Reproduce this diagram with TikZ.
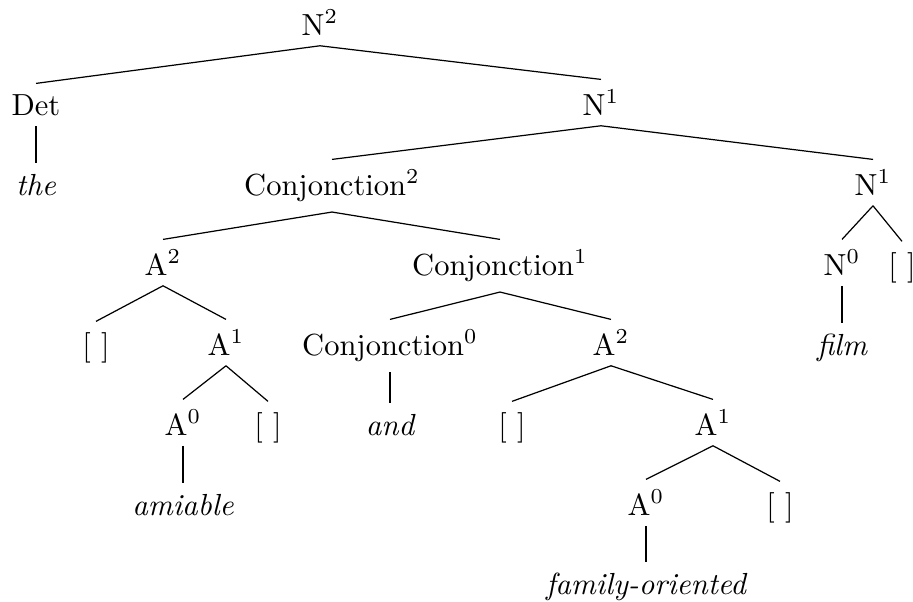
\documentclass[tikz,border=0pt]{standalone}
\begin{document}
\begin{tikzpicture}[x=0.3279pt,y=-0.3279pt,
  tn/.style={anchor=base,inner sep=3.333pt},
  lf/.style={anchor=base,inner sep=3.333pt,font=\itshape},
  edge/.style={line width=0.4pt}]
\useasboundingbox (0,0) rectangle (913,601);
% row 1
\node[tn] (n2) at (320,35) {N$^{2}$};
% row 2
\node[tn] (det) at (36,115) {Det};
\node[tn] (n1a) at (601,115) {N$^{1}$};
% row 3
\node[lf] (the) at (36,195) {the};
\node[tn] (conj2) at (332,195) {Conjonction$^{2}$};
\node[tn] (n1b) at (873,195) {N$^{1}$};
% row 4
\node[tn] (a2a) at (163,275) {A$^{2}$};
\node[tn] (conj1) at (500,275) {Conjonction$^{1}$};
\node[tn] (n0) at (842,275) {N$^{0}$};
\node[tn] (e1) at (902,275) {[ ]};
% row 5
\node[tn] (e2) at (96,355) {[ ]};
\node[tn] (a1a) at (226,355) {A$^{1}$};
\node[tn] (conj0) at (390,355) {Conjonction$^{0}$};
\node[tn] (a2b) at (611,355) {A$^{2}$};
\node[lf] (film) at (842,355) {film};
% row 6
\node[tn] (a0a) at (183,435) {A$^{0}$};
\node[tn] (e3) at (268,435) {[ ]};
\node[lf] (and) at (390,435) {and};
\node[tn] (e4) at (512,435) {[ ]};
\node[tn] (a1b) at (713,435) {A$^{1}$};
% row 7
\node[lf] (amiable) at (183,515) {amiable};
\node[tn] (a0b) at (646,515) {A$^{0}$};
\node[tn] (e5) at (780,515) {[ ]};
% row 8
\node[lf] (fam) at (646,594) {family-oriented};
% edges
\foreach \p/\c in {n2/det,n2/n1a,det/the,n1a/conj2,n1a/n1b,
  conj2/a2a,conj2/conj1,n1b/n0,n1b/e1,
  a2a/e2,a2a/a1a,conj1/conj0,conj1/a2b,n0/film,
  a1a/a0a,a1a/e3,conj0/and,a2b/e4,a2b/a1b,
  a0a/amiable,a1b/a0b,a1b/e5,a0b/fam}
  \draw[edge] (\p.south) -- (\c.north);
\end{tikzpicture}
\end{document}
